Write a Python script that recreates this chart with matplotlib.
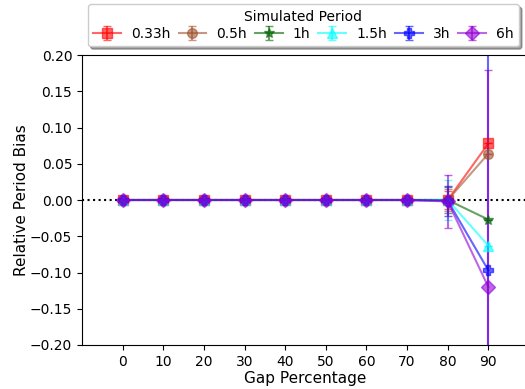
import numpy as np
import matplotlib
matplotlib.use('Agg')
import matplotlib.pyplot as plt

#########################
# relative period bias vs gap percentage
#########################
gaps = [0, 10, 20, 30, 40, 50, 60, 70, 80, 90]
periods = ['0.33h', '0.5h', '1h', '1.5h', '3h', '6h']
colors = ['red', 'sienna', 'darkgreen', 'cyan', 'blue', 'darkviolet']
markers = ['s', 'o', '*', '^', 'P', 'D']

bias = {
	'0.33h': [0, 0, 0, 0, 0, 0, 0, 0, 0.000, 0.078],
	'0.5h':  [0, 0, 0, 0, 0, 0, 0, 0, 0.000, 0.064],
	'1h':    [0, 0, 0, 0, 0, 0, 0, 0, 0.000, -0.027],
	'1.5h':  [0, 0, 0, 0, 0, 0, 0, 0, 0.000, -0.063],
	'3h':    [0, 0, 0, 0, 0, 0, 0, 0, -0.001, -0.097],
	'6h':    [0, 0, 0, 0, 0, 0, 0, 0, -0.002, -0.120],
}
err = {
	'0.33h': [0, 0, 0, 0, 0, 0, 0, 0, 0.012, 0.0],
	'0.5h':  [0, 0, 0, 0, 0, 0, 0, 0, 0.015, 0.0],
	'1h':    [0, 0, 0, 0, 0, 0, 0, 0, 0.018, 0.0],
	'1.5h':  [0, 0, 0, 0, 0, 0, 0, 0, 0.027, 0.0],
	'3h':    [0, 0, 0, 0, 0, 0, 0, 0, 0.021, 0.45],
	'6h':    [0, 0, 0, 0, 0, 0, 0, 0, 0.036, 0.30],
}


def plot_bias():
	fig = plt.figure(figsize=(5.25, 3.89), dpi=100)
	ax = fig.add_axes([82/525., 44/389., 447/525., 290/389.])
	for i, p in enumerate(periods):
		ax.errorbar(gaps, bias[p], yerr=err[p], color=colors[i], marker=markers[i],
			markersize=7, capsize=3, alpha=0.6, lw=1.5, label=p)
	ax.axhline(0, color='k', ls=':', lw=1.5, zorder=0)
	ax.set_xlim(-10, 100)
	ax.set_ylim(-0.2, 0.2)
	ax.set_xticks(gaps)
	ax.set_yticks(np.arange(-0.2, 0.201, 0.05))
	ax.tick_params(labelsize=10)
	ax.set_xlabel('Gap Percentage', fontsize=11, labelpad=1.5)
	ax.set_ylabel('Relative Period Bias', fontsize=11, labelpad=1)
	ax.legend(title='Simulated Period', ncol=6, loc='lower left',
		bbox_to_anchor=(0.013, 1.03), shadow=True, fontsize=10,
		handlelength=2.0, columnspacing=0.6, handletextpad=0.7,
		borderaxespad=0, labelspacing=0.2, title_fontsize=10)
	fig.savefig('out.png', dpi=100)


plot_bias()
